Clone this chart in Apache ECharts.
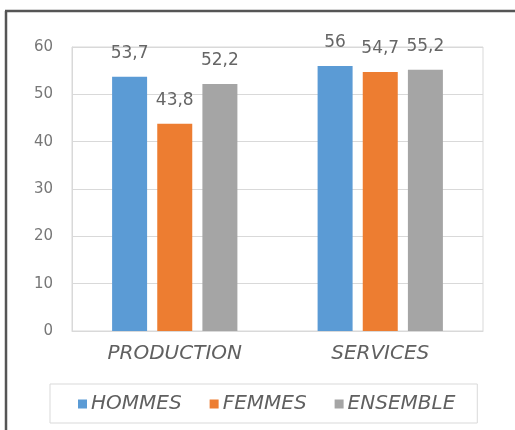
<!DOCTYPE html>
<html>
<head>
<meta charset="utf-8">
<script src="https://cdn.jsdelivr.net/npm/echarts@6/dist/echarts.min.js"></script>
<style>
html,body{margin:0;padding:0;background:#fff;overflow:hidden;}
#c{width:515px;height:430px;}
</style>
</head>
<body>
<div id="c"></div>
<script>
const categories = ['PRODUCTION', 'SERVICES'];
const seriesNames = ['HOMMES', 'FEMMES', 'ENSEMBLE'];
const hommes = [53.7, 56];
const femmes = [43.8, 54.7];
const ensemble = [52.2, 55.2];
const yMin = 0, yMax = 60, yStep = 10;

const colors = ['#5B9BD5', '#ED7D31', '#A5A5A5'];
const values = [hommes, femmes, ensemble];
const FONT = 'DejaVu Sans';

const chart = echarts.init(document.getElementById('c'), null, {renderer: 'canvas'});
chart.setOption({
  animation: false,
  backgroundColor: '#fff',
  color: colors,
  graphic: [
    {type: 'line', shape: {x1: 6, y1: 11, x2: 6, y2: 430}, style: {stroke: '#555', lineWidth: 2.5}, silent: true},
    {type: 'line', shape: {x1: 5, y1: 11, x2: 515, y2: 11}, style: {stroke: '#555', lineWidth: 2.5}, silent: true}
  ],
  grid: {left: 72, right: 32, top: 47, bottom: 99, show: true, borderColor: '#d9d9d9', borderWidth: 1},
  legend: {
    data: seriesNames,
    left: 50,
    top: 384,
    orient: 'horizontal',
    icon: 'rect',
    itemWidth: 9,
    itemHeight: 9,
    itemGap: 28,
    padding: [10, 22, 9, 28],
    borderColor: '#d9d9d9',
    borderWidth: 1,
    textStyle: {fontFamily: FONT, fontStyle: 'italic', fontSize: 20, color: '#606060', padding: [0, 0, 0, -1]}
  },
  xAxis: {
    type: 'category',
    data: categories,
    axisTick: {show: false},
    axisLine: {show: true, lineStyle: {color: '#d9d9d9'}},
    axisLabel: {fontFamily: FONT, fontStyle: 'italic', fontSize: 20, color: '#606060', margin: 13}
  },
  yAxis: {
    type: 'value',
    min: yMin, max: yMax, interval: yStep,
    axisLine: {show: true, lineStyle: {color: '#d9d9d9'}},
    axisTick: {show: false},
    splitLine: {lineStyle: {color: '#d9d9d9'}},
    axisLabel: {fontFamily: FONT, fontSize: 15, color: '#777', margin: 19}
  },
  series: seriesNames.map((n, i) => ({
    name: n,
    type: 'bar',
    data: values[i],
    barWidth: 35,
    barGap: '29%',
    itemStyle: {color: colors[i]},
    label: {
      show: true,
      position: 'top',
      distance: 15,
      fontFamily: FONT,
      fontSize: 17,
      color: '#666',
      formatter: p => String(p.value).replace('.', ',')
    }
  }))
});
</script>
</body>
</html>
